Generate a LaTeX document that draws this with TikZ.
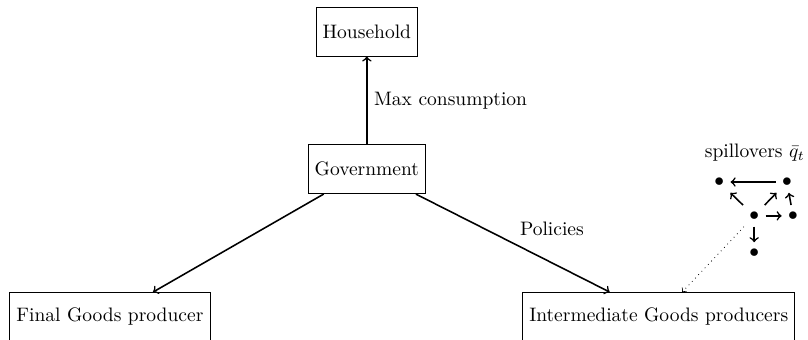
\documentclass[tikz,border=0pt]{standalone}
\usepackage{tikz}
\tikzset{
  agent/.style={draw,minimum height=0.88cm},
  spot/.style={inner sep=0pt,outer sep=0.333em},
  flow/.style={->,thick},
}
\begin{document}
\begin{tikzpicture}[x=1cm,y=1cm]
\path[use as bounding box] (0,0) rectangle (14.56,6.11);
% agents
\node[agent] (hh) at (6.61,5.54) {Household};
\node[agent] (gov) at (6.61,3.06) {Government};
\node[agent] (fg) at (1.98,0.40) {Final Goods producer};
\node[agent] (ig) at (11.87,0.40) {Intermediate Goods producers};
\draw[flow] (gov) -- node[right] {Max consumption} (hh);
\draw[flow] (gov) -- (fg);
\draw[flow] (gov) -- node[above right] {Policies} (ig);
% spillover network
\node[spot] (s1) at (12.96,2.83) {$\bullet$};
\node[spot] (s2) at (14.18,2.83) {$\bullet$};
\node[spot] (s3) at (13.59,2.22) {$\bullet$};
\node[spot] (s4) at (14.29,2.22) {$\bullet$};
\node[spot] (s5) at (13.59,1.55) {$\bullet$};
\node (spill) at (13.60,3.36) {spillovers $\bar{q}_t$};
\draw[flow] (s2) -- (s1);
\draw[flow] (s3) -- (s1);
\draw[flow] (s3) -- (s2);
\draw[flow] (s4) -- (s2);
\draw[flow] (s3) -- (s4);
\draw[flow] (s3) -- (s5);
\draw[->,dotted] (s3) -- (ig);
\end{tikzpicture}
\end{document}
